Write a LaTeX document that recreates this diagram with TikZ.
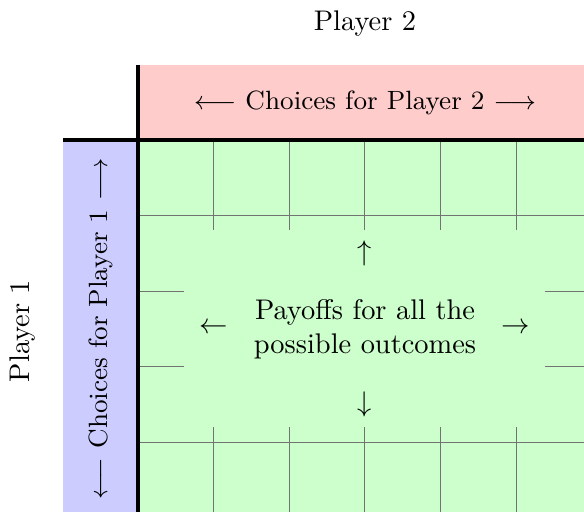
\documentclass[tikz,border=0pt]{standalone}
\begin{document}
\begin{tikzpicture}[x=0.352pt,y=-0.352pt,
  p1fill/.style={fill=blue!20},
  p2fill/.style={fill=red!20},
  payfill/.style={fill=green!20},
  gridline/.style={draw=black!55,line width=0.35pt},
  axisline/.style={draw=black,line width=1.2pt},
  txt/.style={inner sep=0pt,font=\normalsize},
  choicetxt/.style={inner sep=0pt,font=\fontsize{9.3pt}{11pt}\selectfont}]
\useasboundingbox (0,0) rectangle (584,512);
\begin{scope}
\clip (0,0) rectangle (584,512);
% coloured regions of the payoff matrix
\fill[p2fill] (138,65) rectangle (591.6,140);
\fill[p1fill] (63,140) rectangle (138,518);
\fill[payfill] (138,140) rectangle (591.6,518);
% cell grid
\foreach \i in {1,...,5}
  \draw[gridline] ({138+75.6*\i},140) -- ({138+75.6*\i},518);
\foreach \j in {1,...,4}
  \draw[gridline] (138,{140+75.6*\j}) -- (591.6,{140+75.6*\j});
% clear area behind the central caption
\fill[payfill] (184,230) rectangle (545,427);
% heavy separators
\draw[axisline] (138,65) -- (138,518);
\draw[axisline] (63,140) -- (591.6,140);
\end{scope}
% labels
\node[txt] (p2) at (365,24) {Player 2};
\node[txt,rotate=90] (p1) at (23,331) {Player 1};
\node[choicetxt] (c2) at (365,102.5) {$\longleftarrow$ Choices for Player 2 $\longrightarrow$};
\node[choicetxt,rotate=90] (c1) at (100.5,329) {$\longleftarrow$ Choices for Player 1 $\longrightarrow$};
\node[txt,align=center] (pay) at (365,329) {Payoffs for all the\\possible outcomes};
\node[txt] (up) at (365,253.4) {$\uparrow$};
\node[txt] (down) at (365,404.6) {$\downarrow$};
\node[txt] (left) at (213.6,328) {$\leftarrow$};
\node[txt] (right) at (516,328) {$\rightarrow$};
\end{tikzpicture}
\end{document}
